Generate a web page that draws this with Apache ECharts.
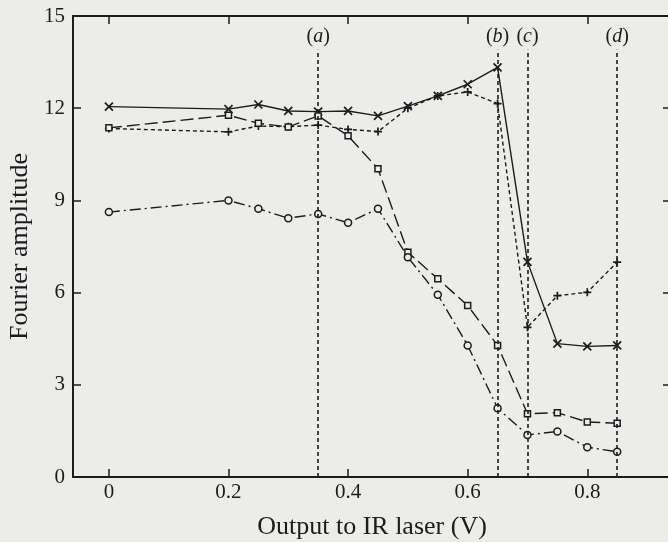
<!DOCTYPE html>
<html>
<head>
<meta charset="utf-8">
<script src="https://cdn.jsdelivr.net/npm/echarts@6/dist/echarts.min.js"></script>
<style>
  html, body { margin: 0; padding: 0; background: #ececea; }
  #chart { width: 668px; height: 542px; }
</style>
</head>
<body>
<div id="chart"></div>
<script>
// x positions (V)
const voltage = [0, 0.2, 0.25, 0.3, 0.35, 0.4, 0.45, 0.5, 0.55, 0.6, 0.65, 0.7, 0.75, 0.8, 0.85]
// series values
const crossSeries = [12.05, 11.97, 12.12, 11.91, 11.89, 11.91, 11.75, 12.07, 12.4, 12.78, 13.33, 7.0, 4.34, 4.25, 4.28]
const plusSeries = [11.34, 11.23, 11.42, 11.4, 11.45, 11.31, 11.24, 12.0, 12.4, 12.53, 12.15, 4.87, 5.9, 6.01, 6.99]
const squareSeries = [11.36, 11.77, 11.51, 11.39, 11.75, 11.1, 10.03, 7.31, 6.45, 5.58, 4.28, 2.06, 2.09, 1.79, 1.75]
const circleSeries = [8.62, 9.0, 8.73, 8.42, 8.56, 8.27, 8.73, 7.15, 5.93, 4.28, 2.24, 1.37, 1.48, 0.97, 0.82]
const xTicks = [0, 0.2, 0.4, 0.6, 0.8]
const markers = [['a', 0.35], ['b', 0.65], ['c', 0.70], ['d', 0.85]]

const ink = '#1c1c1c'
const paper = '#ececea'
const font = 'Liberation Serif'
const crossPath = 'path://M0,0L10,10M10,0L0,10'
const plusPath = 'path://M5,0L5,10M0,5L10,5'

function pairs (ys) {
  return voltage.map((x, i) => [x, ys[i]])
}

function makeSeries (name, ys, dash, symbol, size, border) {
  return {
    name: name,
    type: 'line',
    data: pairs(ys),
    symbol: symbol,
    symbolSize: size,
    lineStyle: { color: ink, width: 1.4, type: dash },
    itemStyle: { color: paper, borderColor: ink, borderWidth: border },
    z: 3
  }
}

const chart = echarts.init(document.getElementById('chart'))

const crossLine = makeSeries('cross', crossSeries, 'solid', crossPath, 8, 1.7)
const plusLine = makeSeries('plus', plusSeries, [4, 3], plusPath, 8, 1.7)
const squareLine = makeSeries('square', squareSeries, [13, 5], 'rect', 6, 1.5)
const circleLine = makeSeries('circle', circleSeries, [11, 4, 2, 4], 'circle', 7, 1.5)

// vertical dashed guide lines
const guides = {
  type: 'line',
  data: [],
  silent: true,
  markLine: {
    symbol: 'none',
    silent: true,
    lineStyle: { color: ink, type: [4, 3], width: 1.6 },
    label: {
      show: true,
      position: 'end',
      distance: 3,
      formatter: p => '(' + '{i|' + p.name + '}' + ')',
      color: ink,
      fontFamily: font,
      fontSize: 20,
      rich: { i: { fontStyle: 'italic', fontFamily: font, fontSize: 20, color: ink } }
    },
    data: markers.map(m => [
      { name: m[0], coord: [m[1], 0] },
      { coord: [m[1], 13.9] }
    ])
  }
}

const tickStyle = { color: ink, width: 1.5 }
const lineStyle = { color: ink, width: 2 }

const option = {
  backgroundColor: paper,
  animation: false,
  grid: { left: 73, top: 16, width: 598, height: 461, outerBoundsMode: 'none' },
  xAxis: [
    {
      type: 'value',
      min: -0.06,
      max: 0.94,
      name: 'Output to IR laser (V)',
      nameLocation: 'middle',
      nameGap: 37,
      nameTextStyle: { fontFamily: font, fontSize: 26, color: ink },
      axisLine: { onZero: false, lineStyle: lineStyle },
      axisTick: { inside: true, length: 8, customValues: xTicks, lineStyle: tickStyle },
      axisLabel: { customValues: xTicks, fontFamily: font, fontSize: 21, color: ink, margin: 5 },
      splitLine: { show: false }
    },
    {
      type: 'value',
      position: 'top',
      min: -0.06,
      max: 0.94,
      axisLine: { onZero: false, lineStyle: lineStyle },
      axisTick: { inside: true, length: 8, customValues: xTicks, lineStyle: tickStyle },
      axisLabel: { show: false },
      splitLine: { show: false }
    }
  ],
  yAxis: [
    {
      type: 'value',
      min: 0,
      max: 15,
      interval: 3,
      name: 'Fourier amplitude',
      nameLocation: 'middle',
      nameGap: 35,
      nameTextStyle: { fontFamily: font, fontSize: 26, color: ink },
      axisLine: { show: true, onZero: false, lineStyle: lineStyle },
      axisTick: { show: true, inside: true, length: 8, lineStyle: tickStyle },
      axisLabel: { fontFamily: font, fontSize: 21, color: ink, margin: 8 },
      splitLine: { show: false }
    },
    {
      type: 'value',
      position: 'right',
      min: 0,
      max: 15,
      interval: 3,
      axisLine: { show: true, onZero: false, lineStyle: lineStyle },
      axisTick: { show: true, inside: true, length: 8, lineStyle: tickStyle },
      axisLabel: { show: false },
      splitLine: { show: false }
    }
  ],
  series: [guides, crossLine, plusLine, squareLine, circleLine]
}

chart.setOption(option)
</script>
</body>
</html>
